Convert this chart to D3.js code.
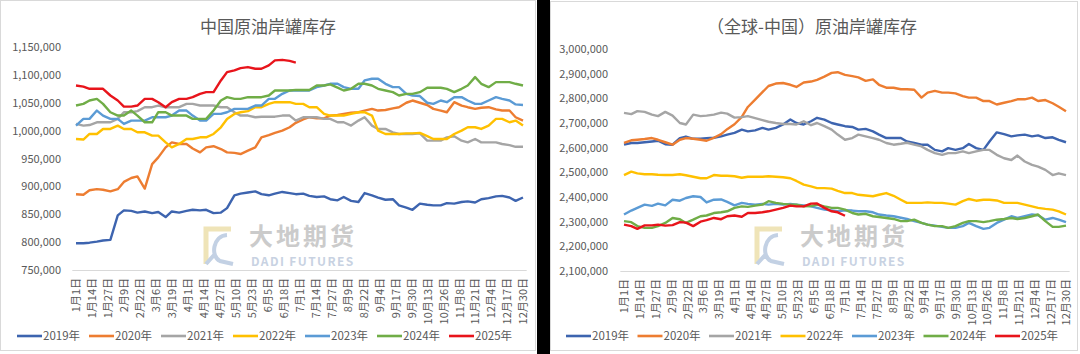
<!DOCTYPE html>
<html>
  <head>
    <title>原油岸罐库存</title>
    <meta charset="utf-8" />
    <script src="https://d3js.org/d3.v7.min.js"></script>
    <style>
      body {
        margin: 0;
        background: #fff;
        font-family: "Noto Sans CJK SC", "Noto Sans", sans-serif;
      }
      svg text {
        fill: #595959;
      }
    </style>
  </head>
  <body>
  <script>
    // x axis labels, one every 13 days from 1月1日
    var tickLabels = ["1月1日", "1月14日", "1月27日", "2月9日", "2月22日", "3月6日", "3月19日",
      "4月1日", "4月14日", "4月27日", "5月10日", "5月23日", "6月5日", "6月18日", "7月1日",
      "7月14日", "7月27日", "8月9日", "8月22日", "9月4日", "9月17日", "9月30日", "10月13日",
      "10月26日", "11月8日", "11月21日", "12月4日", "12月17日", "12月30日"];
    var tickDays = [0, 13, 26, 39, 52, 65, 78, 91, 104, 117, 130, 143, 156, 169, 182,
      195, 208, 221, 234, 247, 260, 273, 286, 299, 312, 325, 338, 351, 364];

    var years = ["2019年", "2020年", "2021年", "2022年", "2023年", "2024年", "2025年"];

    // sample days (day of year)
    var cnDays = [0, 6, 11, 17, 22, 28, 34, 39, 45, 50, 56, 62, 67, 73, 78, 84, 90, 95, 101, 106,
      112, 118, 123, 129, 134, 140, 146, 151, 157, 162, 168, 174, 179, 185, 190, 196, 202, 207,
      213, 218, 224, 230, 235, 241, 246, 252, 258, 263, 269, 274, 280, 286, 291, 297, 302, 308,
      314, 319, 325, 330, 336, 342, 347, 353, 358, 364];
    var rowDays = [0, 6, 11, 17, 23, 28, 34, 40, 46, 51, 57, 63, 68, 74, 80, 85, 91, 97, 102, 108,
      114, 119, 125, 131, 137, 142, 148, 154, 159, 165, 171, 176, 182, 188, 193, 199, 205, 210,
      216, 222, 228, 233, 239, 245, 250, 256, 262, 267, 273, 279, 284, 290, 296, 301, 307, 313,
      319, 324, 330, 336, 341, 347, 353, 358, 364];

    // 中国原油岸罐库存 (thousand)
    var cn2019 = [798, 798, 799, 801, 803, 804, 848, 857, 856, 853, 855,
      852, 854, 845, 855, 853, 856, 858, 857, 858, 852, 853,
      861, 884, 887, 889, 891, 886, 884, 887, 890, 888, 886,
      887, 883, 881, 882, 877, 875, 881, 874, 872, 888, 884,
      880, 876, 877, 866, 862, 858, 869, 867, 866, 866, 870,
      869, 872, 873, 871, 877, 879, 882, 883, 880, 874, 880];
    var cn2020 = [886, 885, 893, 895, 894, 891, 895, 908, 915, 918, 896,
      940, 952, 970, 979, 976, 976, 968, 961, 970, 972, 967,
      961, 960, 958, 964, 970, 988, 992, 996, 1000, 1006, 1014,
      1020, 1024, 1022, 1022, 1027, 1028, 1030, 1032, 1033, 1036, 1039,
      1036, 1037, 1040, 1042, 1050, 1054, 1050, 1046, 1039, 1036, 1033,
      1051, 1045, 1042, 1039, 1041, 1042, 1038, 1036, 1036, 1024, 1018];
    var cn2021 = [1012, 1009, 1010, 1015, 1015, 1015, 1021, 1033, 1033, 1035, 1042,
      1042, 1045, 1042, 1042, 1042, 1048, 1048, 1045, 1045, 1045, 1042,
      1042, 1033, 1027, 1027, 1024, 1025, 1025, 1025, 1027, 1027, 1018,
      1024, 1024, 1024, 1021, 1021, 1015, 1015, 1009, 1018, 1024, 1009,
      1003, 1003, 997, 994, 994, 994, 995, 982, 982, 982, 988,
      990, 982, 979, 985, 979, 979, 979, 976, 974, 971, 971];
    var cn2022 = [985, 984, 994, 994, 1003, 1003, 1009, 1003, 1003, 997, 997,
      991, 991, 979, 970, 976, 985, 985, 988, 988, 994, 1006,
      1021, 1030, 1033, 1035, 1042, 1042, 1048, 1051, 1051, 1051, 1048,
      1048, 1042, 1042, 1030, 1027, 1027, 1027, 1030, 1033, 1033, 1027,
      1000, 994, 994, 994, 995, 995, 996, 990, 985, 985, 985,
      994, 1000, 1006, 1006, 1003, 1009, 1021, 1021, 1015, 1018, 1009];
    var cn2023 = [1009, 1021, 1021, 1036, 1027, 1021, 1021, 1012, 1018, 1018, 1018,
      1024, 1024, 1024, 1027, 1036, 1036, 1027, 1018, 1018, 1030, 1030,
      1033, 1039, 1039, 1039, 1045, 1045, 1057, 1057, 1066, 1072, 1072,
      1072, 1072, 1078, 1081, 1084, 1084, 1078, 1075, 1075, 1090, 1093,
      1093, 1084, 1078, 1078, 1066, 1063, 1062, 1050, 1048, 1054, 1051,
      1060, 1060, 1054, 1048, 1048, 1054, 1060, 1057, 1054, 1047, 1046];
    var cn2024 = [1045, 1048, 1054, 1057, 1048, 1033, 1027, 1027, 1036, 1027, 1015,
      1015, 1033, 1033, 1027, 1027, 1027, 1021, 1021, 1021, 1036, 1054,
      1060, 1057, 1057, 1060, 1060, 1060, 1063, 1072, 1072, 1072, 1073,
      1073, 1073, 1081, 1081, 1083, 1077, 1072, 1075, 1084, 1084, 1081,
      1075, 1072, 1069, 1063, 1066, 1066, 1069, 1077, 1077, 1077, 1075,
      1069, 1075, 1081, 1096, 1084, 1078, 1087, 1087, 1087, 1084, 1081];
    var cn2025 = [1081, 1079, 1075, 1075, 1075, 1063, 1054, 1043, 1043, 1045, 1057,
      1057, 1051, 1042, 1051, 1057, 1057, 1060, 1066, 1069, 1069, 1090,
      1105, 1108, 1112, 1114, 1111, 1111, 1117, 1126, 1127, 1125, 1122];

    // （全球-中国）原油岸罐库存 (thousand)
    var row2019 = [2612, 2619, 2619, 2622, 2625, 2628, 2614, 2612, 2639, 2645,
      2636, 2636, 2638, 2640, 2646, 2653, 2660, 2673, 2666, 2670,
      2680, 2673, 2680, 2694, 2714, 2700, 2694, 2707, 2721, 2714,
      2700, 2694, 2687, 2684, 2673, 2676, 2666, 2653, 2639, 2639,
      2639, 2625, 2619, 2612, 2612, 2591, 2585, 2598, 2591, 2598,
      2615, 2598, 2591, 2625, 2662, 2655, 2646, 2650, 2653, 2646,
      2650, 2639, 2642, 2632, 2622];
    var row2020 = [2619, 2630, 2632, 2635, 2639, 2632, 2622, 2612, 2632, 2639,
      2636, 2632, 2628, 2640, 2655, 2675, 2695, 2725, 2765, 2795,
      2825, 2850, 2860, 2862, 2855, 2846, 2864, 2868, 2875, 2888,
      2903, 2906, 2895, 2890, 2885, 2871, 2877, 2855, 2843, 2843,
      2837, 2837, 2835, 2803, 2823, 2830, 2823, 2823, 2820, 2809,
      2803, 2803, 2789, 2789, 2775, 2782, 2789, 2796, 2796, 2803,
      2789, 2793, 2780, 2766, 2748];
    var row2021 = [2741, 2736, 2748, 2745, 2734, 2728, 2745, 2730, 2700, 2694,
      2734, 2728, 2730, 2734, 2742, 2738, 2722, 2724, 2728, 2720,
      2712, 2705, 2700, 2696, 2696, 2694, 2707, 2691, 2700, 2687,
      2673, 2653, 2632, 2639, 2653, 2646, 2639, 2632, 2619, 2612,
      2616, 2620, 2612, 2605, 2591, 2578, 2571, 2578, 2578, 2585,
      2578, 2585, 2591, 2591, 2571, 2557, 2550, 2568, 2544, 2530,
      2523, 2510, 2489, 2496, 2489];
    var row2022 = [2489, 2503, 2496, 2492, 2492, 2490, 2489, 2489, 2492, 2488,
      2482, 2476, 2476, 2489, 2486, 2486, 2484, 2478, 2482, 2482,
      2482, 2484, 2482, 2480, 2476, 2465, 2450, 2443, 2436, 2436,
      2434, 2425, 2416, 2416, 2409, 2406, 2403, 2409, 2416, 2405,
      2389, 2376, 2376, 2376, 2378, 2376, 2376, 2373, 2369, 2383,
      2392, 2385, 2389, 2389, 2386, 2376, 2376, 2376, 2369, 2362,
      2356, 2352, 2349, 2342, 2329];
    var row2023 = [2329, 2345, 2356, 2369, 2364, 2373, 2366, 2389, 2385, 2396,
      2403, 2400, 2378, 2389, 2390, 2380, 2366, 2376, 2372, 2369,
      2372, 2369, 2372, 2369, 2372, 2369, 2366, 2362, 2356, 2349,
      2346, 2342, 2346, 2345, 2342, 2342, 2338, 2329, 2325, 2322,
      2316, 2311, 2302, 2295, 2288, 2284, 2279, 2275, 2275, 2282,
      2295, 2282, 2271, 2275, 2295, 2308, 2322, 2315, 2322, 2329,
      2326, 2308, 2315, 2308, 2298];
    var row2024 = [2302, 2298, 2282, 2275, 2275, 2282, 2295, 2315, 2310, 2295,
      2308, 2322, 2325, 2335, 2338, 2342, 2356, 2362, 2360, 2365,
      2369, 2383, 2376, 2372, 2369, 2369, 2362, 2363, 2369, 2362,
      2356, 2356, 2349, 2335, 2329, 2332, 2322, 2319, 2315, 2311,
      2302, 2302, 2308, 2295, 2288, 2282, 2282, 2275, 2282, 2295,
      2302, 2302, 2298, 2302, 2308, 2311, 2315, 2311, 2315, 2322,
      2329, 2302, 2279, 2279, 2284];
    var row2025 = [2288, 2282, 2271, 2285, 2285, 2288, 2284, 2286, 2298, 2296,
      2282, 2300, 2306, 2315, 2310, 2322, 2325, 2320, 2335, 2335,
      2338, 2342, 2349, 2356, 2365, 2362, 2362, 2373, 2374, 2356,
      2342, 2338, 2324];

    var lineColors = ["#3D64AF", "#ED7D31", "#A5A5A5", "#FFC000", "#5B9BD5", "#70AD47", "#E8141B"];

    var svg = d3
      .select("body")
      .append("svg")
      .attr("width", 1080)
      .attr("height", 354);

    // panel frames + black gap between the two pictures
    svg.append("rect").attr("x", 0).attr("y", 0).attr("width", 1080).attr("height", 354).attr("fill", "#fff");
    svg.append("rect").attr("x", 537).attr("y", 0).attr("width", 13).attr("height", 354).attr("fill", "#000");
    svg.append("rect").attr("x", 0.5).attr("y", 0.5).attr("width", 535).attr("height", 350)
      .attr("fill", "none").attr("stroke", "#d9d9d9");
    svg.append("rect").attr("x", 550.5).attr("y", 1.5).attr("width", 527).attr("height", 349)
      .attr("fill", "none").attr("stroke", "#d9d9d9");

    function drawPanel(cfg) {
      var g = svg.append("g");
      var x = d3.scaleLinear().domain([0, 364]).range([cfg.x0, cfg.x1]);
      var y = d3.scaleLinear().domain(cfg.yDomain).range([cfg.yBottom, cfg.yTop]);

      g.append("text")
        .attr("x", cfg.titleX)
        .attr("y", 33)
        .attr("text-anchor", "middle")
        .style("font-size", "17px")
        .text(cfg.title);

      // watermark
      var wm = g.append("g").attr("transform", "translate(" + cfg.wmX + ",226)");
      wm.append("path")
        .attr("d", "M3,38 L3,3 L28,3")
        .attr("fill", "none")
        .attr("stroke", "#efe4b8")
        .attr("stroke-width", 5);
      wm.append("path")
        .attr("d", "M24,9 C10,10 7,30 17,35 L30,38 M3,38 L12,28")
        .attr("fill", "none")
        .attr("stroke", "#c3d1e4")
        .attr("stroke-width", 4);
      wm.append("text")
        .attr("x", 46)
        .attr("y", 19)
        .style("font-size", "24px")
        .style("font-weight", "bold")
        .style("letter-spacing", "3px")
        .style("fill", "#cbcbcb")
        .text("大地期货");
      wm.append("text")
        .attr("x", 48)
        .attr("y", 40)
        .style("font-size", "12px")
        .style("font-weight", "bold")
        .style("letter-spacing", "1.4px")
        .style("fill", "#c8d2e2")
        .text("DADI FUTURES");

      var yAxis = g
        .append("g")
        .attr("transform", "translate(" + cfg.yLabelX + ",0)")
        .call(
          d3.axisLeft(y)
            .tickValues(cfg.yTicks)
            .tickSize(0)
            .tickPadding(0)
            .tickFormat(function (d) {
              return d3.format(",")(d * 1000);
            })
        );
      yAxis.select(".domain").remove();
      yAxis.attr("font-family", null).attr("font-size", null);
      yAxis.selectAll("text").style("font-size", "11px");

      g.append("line")
        .attr("x1", x(-3))
        .attr("x2", x(367))
        .attr("y1", cfg.yBottom + 0.5)
        .attr("y2", cfg.yBottom + 0.5)
        .attr("stroke", "#d9d9d9");

      var xAxis = g
        .append("g")
        .attr("transform", "translate(0," + cfg.yBottom + ")")
        .call(
          d3.axisBottom(x)
            .tickValues(tickDays)
            .tickSize(0)
            .tickFormat(function (d, i) {
              return tickLabels[i];
            })
        );
      xAxis.select(".domain").remove();
      xAxis.attr("font-family", null).attr("font-size", null);
      xAxis
        .selectAll("text")
        .attr("transform", "rotate(-90)")
        .attr("x", -8)
        .attr("y", 0)
        .attr("dy", "0.35em")
        .style("text-anchor", "end")
        .style("font-size", "11px");

      var line = d3
        .line()
        .x(function (d, i) {
          return x(cfg.days[i]);
        })
        .y(function (d) {
          return y(d);
        });

      g.selectAll(".series")
        .data(cfg.series)
        .enter()
        .append("path")
        .attr("class", "series")
        .attr("d", function (d) {
          return line(d);
        })
        .attr("fill", "none")
        .attr("stroke", function (d, i) {
          return lineColors[i];
        })
        .attr("stroke-width", 2.4)
        .attr("stroke-linejoin", "round");

      // legend
      var leg = g
        .selectAll(".leg")
        .data(years)
        .enter()
        .append("g")
        .attr("class", "leg")
        .attr("transform", function (d, i) {
          return "translate(" + (cfg.legendX + i * cfg.legendStep) + "," + cfg.legendY + ")";
        });
      leg.append("line")
        .attr("x1", 0)
        .attr("x2", 25)
        .attr("stroke", function (d, i) {
          return lineColors[i];
        })
        .attr("stroke-width", 2.6);
      leg.append("text")
        .attr("x", 26)
        .attr("dy", "0.36em")
        .style("font-size", "11.5px")
        .text(function (d) {
          return d;
        });
    }

    drawPanel({
      title: "中国原油岸罐库存",
      titleX: 268,
      x0: 76,
      x1: 523,
      yTop: 47,
      yBottom: 270,
      yDomain: [750, 1150],
      yTicks: [750, 800, 850, 900, 950, 1000, 1050, 1100, 1150],
      yLabelX: 61,
      days: cnDays,
      series: [cn2019, cn2020, cn2021, cn2022, cn2023, cn2024, cn2025],
      wmX: 203,
      legendX: 17,
      legendStep: 72,
      legendY: 336
    });

    drawPanel({
      title: "（全球-中国）原油岸罐库存",
      titleX: 812,
      x0: 624,
      x1: 1066,
      yTop: 49,
      yBottom: 271,
      yDomain: [2100, 3000],
      yTicks: [2100, 2200, 2300, 2400, 2500, 2600, 2700, 2800, 2900, 3000],
      yLabelX: 608,
      days: rowDays,
      series: [row2019, row2020, row2021, row2022, row2023, row2024, row2025],
      wmX: 754,
      legendX: 566,
      legendStep: 71.5,
      legendY: 336
    });
  </script>
  </body>
</html>
